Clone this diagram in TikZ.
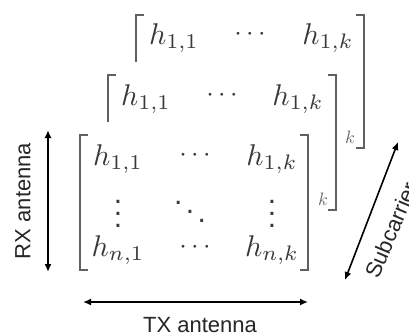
\documentclass[tikz,border=0pt]{standalone}
\usepackage{fontspec}
\setmainfont{Liberation Sans}
\usetikzlibrary{arrows.meta}
\begin{document}
\begin{tikzpicture}[x=1pt,y=-1pt,
  ent/.style={inner sep=0pt,text=black!78,scale=3},
  dts/.style={inner sep=0pt,text=black!78,scale=2.7},
  smallk/.style={inner sep=0pt,text=black!60,scale=1.8},
  brk/.style={draw=black!62,line width=1.5pt},
  dbl/.style={draw=black,line width=1.6pt,{Latex[length=8pt,width=7pt]}-{Latex[length=8pt,width=7pt]}},
  lab/.style={inner sep=0pt,text=black!85,font=\fontsize{22}{26}\selectfont}]
\useasboundingbox (0,0) rectangle (409,335);
% back matrix
\draw[brk] (144,15) -- (136,15) -- (136,62);
\draw[brk] (356,15) -- (364,15) -- (364,148) -- (356,148);
\node[ent] (b11) at (174,38) {$h_{1,1}$};
\node[dts] (b12) at (250,34) {$\cdots$};
\node[ent] (b13) at (328,38) {$h_{1,k}$};
\node[smallk] (bk) at (350,137) {$k$};
% middle matrix
\draw[brk] (116,75) -- (108,75) -- (108,122);
\draw[brk] (328,75) -- (336,75) -- (336,210) -- (328,210);
\node[ent] (m11) at (146,99) {$h_{1,1}$};
\node[dts] (m12) at (222,95) {$\cdots$};
\node[ent] (m13) at (298,99) {$h_{1,k}$};
\node[smallk] (mk) at (323,199) {$k$};
% front matrix
\draw[brk] (88,135) -- (80,135) -- (80,270) -- (88,270);
\draw[brk] (300,135) -- (308,135) -- (308,270) -- (300,270);
\node[ent] (f11) at (118,159) {$h_{1,1}$};
\node[dts] (f12) at (195,155) {$\cdots$};
\node[ent] (f13) at (272,159) {$h_{1,k}$};
\node[ent] (f21) at (118,205) {$\vdots$};
\node[ent] (f22) at (190,203) {$\ddots$};
\node[ent] (f23) at (272,205) {$\vdots$};
\node[ent] (f31) at (118,250) {$h_{n,1}$};
\node[dts] (f32) at (195,247) {$\cdots$};
\node[ent] (f33) at (272,250) {$h_{n,k}$};
% arrows
\coordinate (rxt) at (48,130);
\coordinate (rxb) at (48,272);
\coordinate (txl) at (83,302);
\coordinate (txr) at (308,302);
\coordinate (scb) at (345,280);
\coordinate (sct) at (398,142);
\draw[dbl] (rxt) -- (rxb);
\draw[dbl] (txl) -- (txr);
\draw[dbl] (scb) -- (sct);
\node[lab,rotate=90] (rx) at (23,201) {RX antenna};
\node[lab] (tx) at (200,325) {TX antenna};
\node[lab,rotate=67] (sc) at (391,230) {Subcarrier};
\end{tikzpicture}
\end{document}
